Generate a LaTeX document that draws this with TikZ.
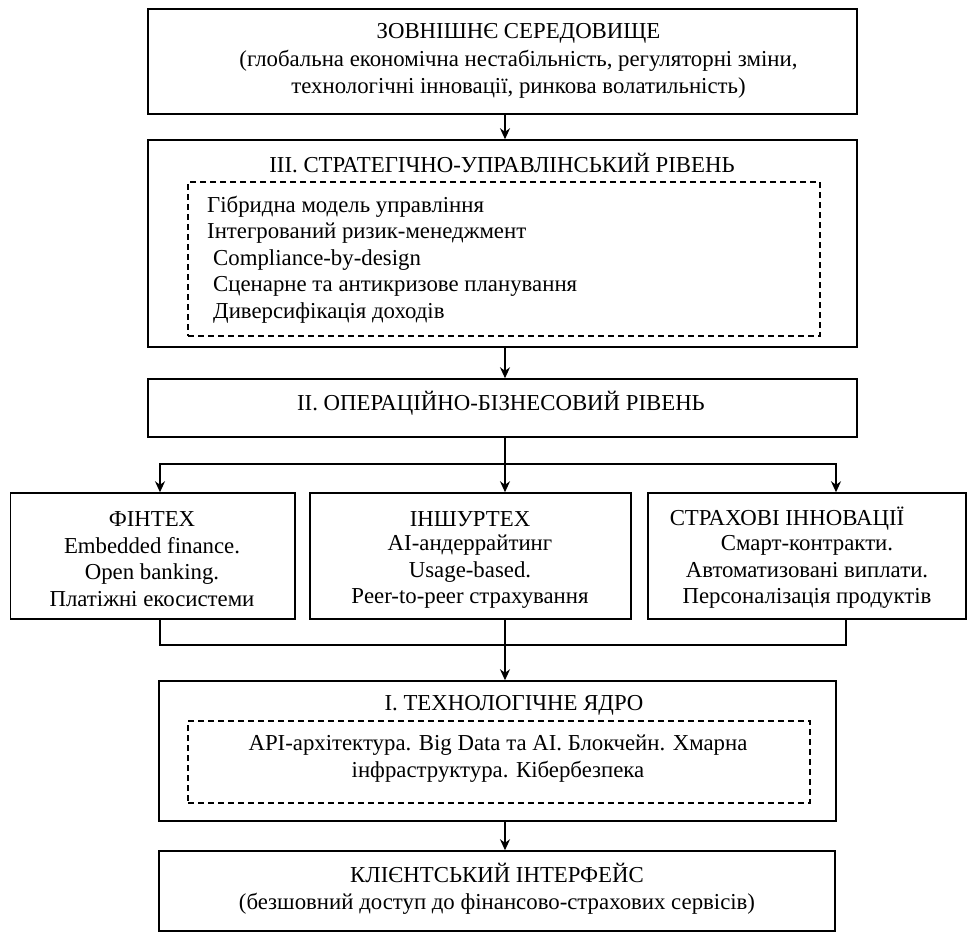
\documentclass[tikz,border=0pt]{standalone}
\usepackage{fontspec}
\setmainfont{Liberation Serif}
\usetikzlibrary{arrows.meta}
\begin{document}
\begin{tikzpicture}[x=1pt, y=-1pt,
  box/.style={draw, line width=1.5pt, inner sep=0pt},
  dashbox/.style={draw, line width=1.2pt, dash pattern=on 6pt off 4pt, inner sep=0pt},
  txt/.style={align=center, font=\fontsize{22.8}{26.5}\selectfont, inner sep=0pt},
  arr/.style={line width=1.5pt, -{Stealth[length=11pt, width=10pt]}},
  lin/.style={line width=1.5pt}]
\useasboundingbox (0,0) rectangle (968,934);
% вісь стрілок
\coordinate (axis) at (505,0);
% Зовнішнє середовище
\node[box, minimum width=709, minimum height=105] (ext) at (502.5,61.5) {};
\node[txt, font=\fontsize{22.8}{27.5}\selectfont] (exttxt) at (518.5,61) {ЗОВНІШНЄ СЕРЕДОВИЩЕ\\(глобальна економічна нестабільність, регуляторні зміни,\\технологічні інновації, ринкова волатильність)};
% III рівень
\node[box, minimum width=709, minimum height=207] (str) at (502.5,243.5) {};
\node[txt] (strtitle) at (502,163) {III. СТРАТЕГІЧНО-УПРАВЛІНСЬКИЙ РІВЕНЬ};
\node[dashbox, minimum width=632, minimum height=154] (strin) at (504,259) {};
\node[txt, align=left, anchor=west] (strlist) at (207,259.5) {Гібридна модель управління\\Інтегрований ризик-менеджмент\\\hspace*{6pt}Compliance-by-design\\\hspace*{6pt}Сценарне та антикризове планування\\\hspace*{6pt}Диверсифікація доходів};
% II рівень
\node[box, minimum width=709, minimum height=58] (ops) at (502.5,408) {};
\node[txt] (opstxt) at (501,403) {II. ОПЕРАЦІЙНО-БІЗНЕСОВИЙ РІВЕНЬ};
% три блоки
\node[box, minimum width=284.5, minimum height=126] (fin) at (152.75,556) {};
\node[box, minimum width=321, minimum height=126] (ins) at (470.5,556) {};
\node[box, minimum width=318, minimum height=126] (inn) at (807,556) {};
\node[txt] (fintitle) at (152,519) {ФІНТЕХ};
\node[txt] (finlist) at (152,572) {Embedded finance.\\Open banking.\\Платіжні екосистеми};
\node[txt] (institle) at (470,519) {ІНШУРТЕХ};
\node[txt] (inslist) at (470,572) {AI-андеррайтинг\\Usage-based.\\Peer-to-peer страхування};
\node[txt] (inntitle) at (787,519) {СТРАХОВІ ІННОВАЦІЇ};
\node[txt] (innlist) at (807,572) {Смарт-контракти.\\Автоматизовані виплати.\\Персоналізація продуктів};
% I рівень
\node[box, minimum width=677, minimum height=140] (core) at (497.5,751) {};
\node[txt] (coretitle) at (514,705) {I. ТЕХНОЛОГІЧНЕ ЯДРО};
\node[dashbox, minimum width=622, minimum height=82] (corein) at (499,762) {};
\node[txt] (corelist) at (498,758.5) {API-архітектура. Big Data та AI. Блокчейн. Хмарна\\інфраструктура. Кібербезпека};
% Клієнтський інтерфейс
\node[box, minimum width=676, minimum height=80] (cli) at (497,891) {};
\node[txt, font=\fontsize{22.8}{27}\selectfont] (clitxt) at (497,889) {КЛІЄНТСЬКИЙ ІНТЕРФЕЙС\\(безшовний доступ до фінансово-страхових сервісів)};
% стрілки
\draw[arr] (ext.south -| axis) -- (str.north -| axis);
\draw[arr] (str.south -| axis) -- (ops.north -| axis);
\coordinate (split) at (505,464);
\coordinate (join) at (505,645);
\draw[lin] (ops.south -| axis) -- (split);
\draw[arr] (split) -| ([xshift=7.25pt]fin.north);
\draw[arr] (split) -- (ins.north -| axis);
\draw[arr] (split) -| ([xshift=29pt]inn.north);
\draw[lin] ([xshift=7.25pt]fin.south) |- (join) -| ([xshift=39pt]inn.south);
\draw[arr] (ins.south -| axis) -- (core.north -| axis);
\draw[arr] (core.south -| axis) -- (cli.north -| axis);
\end{tikzpicture}
\end{document}
